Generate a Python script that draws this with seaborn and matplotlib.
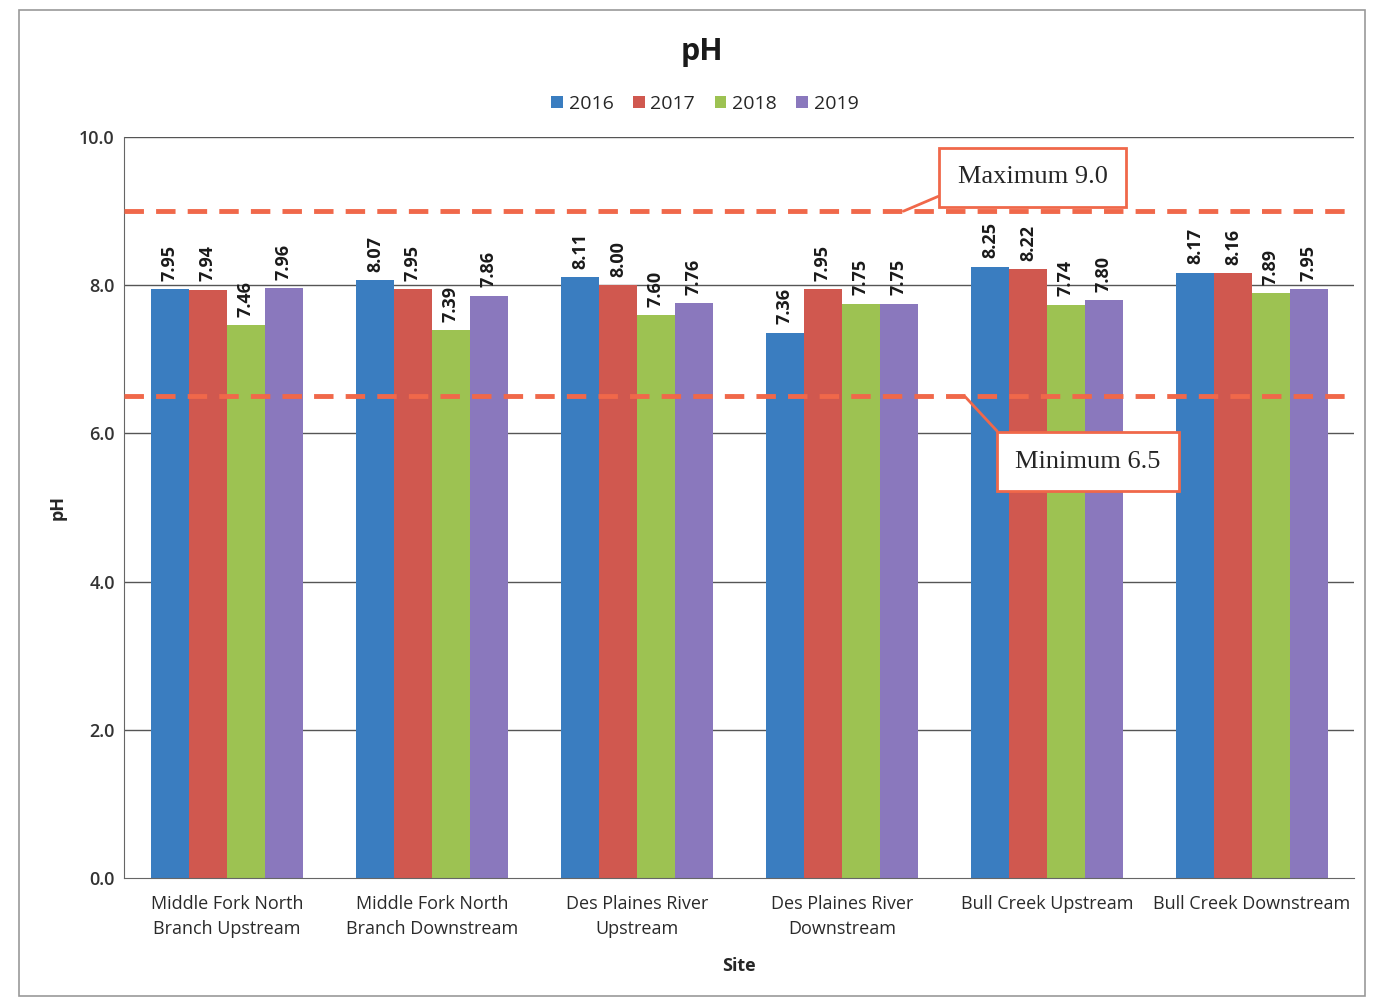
import matplotlib
matplotlib.use('Agg')
import matplotlib.pyplot as plt
import seaborn as sns
import pandas as pd
from matplotlib.patches import Rectangle

# ── Data ────────────────────────────────────────────────────────────────────
SITES = ['Middle Fork North\nBranch Upstream',
         'Middle Fork North\nBranch Downstream',
         'Des Plaines River\nUpstream',
         'Des Plaines River\nDownstream',
         'Bull Creek Upstream',
         'Bull Creek Downstream']
YEARS = ['2016', '2017', '2018', '2019']

PH_2016 = [7.95, 8.07, 8.11, 7.36, 8.25, 8.17]
PH_2017 = [7.94, 7.95, 8.00, 7.95, 8.22, 8.16]
PH_2018 = [7.46, 7.39, 7.60, 7.75, 7.74, 7.89]
PH_2019 = [7.96, 7.86, 7.76, 7.75, 7.80, 7.95]

PH_MAX = 9.0
PH_MIN = 6.5

COLORS = ['#3A7DC0', '#D0584F', '#9DC252', '#8A78BD']
LINE_RED = '#F0684A'

# ── Build long-form table ───────────────────────────────────────────────────
rows = []
for year, vals in zip(YEARS, [PH_2016, PH_2017, PH_2018, PH_2019]):
    for site, v in zip(SITES, vals):
        rows.append({'Site': site, 'Year': year, 'pH': v})
df = pd.DataFrame(rows)

# ── Plot ────────────────────────────────────────────────────────────────────
sns.set_style('white')
plt.rcParams['font.family'] = ['Open Sans', 'DejaVu Sans']

fig = plt.figure(figsize=(13.82, 10.01), dpi=100)
ax = fig.add_axes([0.09, 0.123, 0.89, 0.74])

sns.barplot(data=df, x='Site', y='pH', hue='Year', palette=COLORS,
            width=0.74, saturation=1, linewidth=0, ax=ax, legend=True)

for bars in ax.containers:
    ax.bar_label(bars, fmt='%.2f', rotation=90, padding=6,
                 fontsize=13, color='#1a1a1a', fontweight='bold')

# grid lines
ax.set_ylim(0, 10)
ax.set_yticks([0, 2, 4, 6, 8, 10])
ax.set_yticklabels([f'{t:.1f}' for t in [0, 2, 4, 6, 8, 10]],
                   fontsize=13, fontweight='semibold', color='#333333')
for y in [2, 4, 6, 8, 10]:
    ax.axhline(y, color='#555555', lw=1.0, zorder=0.5)
ax.set_xlim(-0.5, len(SITES) - 0.5)
ax.tick_params(axis='x', labelsize=13, length=0, pad=12)
for lab in ax.get_xticklabels():
    lab.set_color('#2a2a2a')
    lab.set_linespacing(1.5)
    lab.set_fontweight('medium')

for side in ['top', 'right']:
    ax.spines[side].set_visible(False)
for side in ['left', 'bottom']:
    ax.spines[side].set_color('#666666')

# criteria lines
ax.axhline(PH_MAX, color=LINE_RED, lw=3.5, ls=(0, (4, 2.5)), zorder=3)
ax.axhline(PH_MIN, color=LINE_RED, lw=3.5, ls=(0, (4, 2.5)), zorder=3)

box = dict(boxstyle='square,pad=0.7', fc='white', ec=LINE_RED, lw=2)
ax.annotate('Maximum 9.0', xy=(3.3, PH_MAX), xytext=(3.93, 9.46),
            ha='center', va='center', fontsize=19,
            family=['Liberation Serif', 'DejaVu Serif'],
            bbox=box, zorder=5,
            arrowprops=dict(arrowstyle='-', color=LINE_RED, lw=2,
                            shrinkA=0, shrinkB=0, relpos=(0, 0)))
ax.annotate('Minimum 6.5', xy=(3.6, PH_MIN), xytext=(4.2, 5.62),
            ha='center', va='center', fontsize=19,
            family=['Liberation Serif', 'DejaVu Serif'],
            bbox=box, zorder=5,
            arrowprops=dict(arrowstyle='-', color=LINE_RED, lw=2,
                            shrinkA=0, shrinkB=0, relpos=(0, 1)))

# labels and title
ax.set_xlabel('Site', fontsize=13, fontweight='bold', labelpad=14)
ax.set_ylabel('pH', fontsize=13, fontweight='bold', labelpad=9)
fig.text(0.508, 0.948, 'pH', ha='center', va='center',
         fontsize=22, fontweight='bold', color='#1a1a1a')

ax.legend(loc='center', bbox_to_anchor=(0.51, 0.896),
          bbox_transform=fig.transFigure, ncol=4, frameon=False,
          fontsize=14, handlelength=0.6, handleheight=0.6,
          handletextpad=0.3, columnspacing=1.0)

# outer chart border
fig.patches.append(Rectangle((0.014, 0.005), 0.974, 0.985,
                             transform=fig.transFigure, fill=False,
                             ec='#999999', lw=1.2))

fig.savefig('out.png', dpi=100)
